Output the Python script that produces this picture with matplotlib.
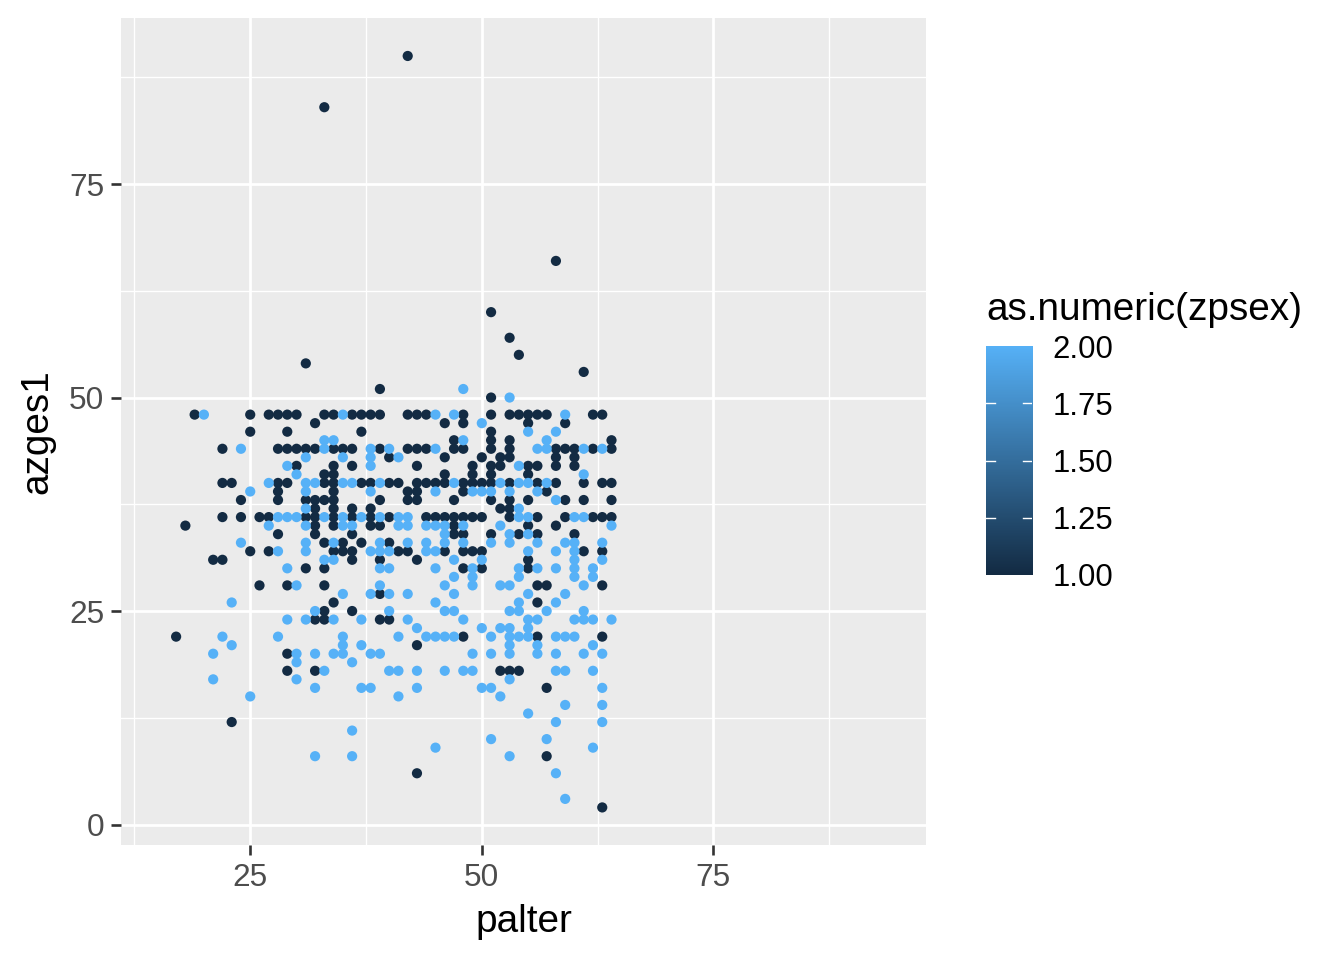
import matplotlib
matplotlib.use('Agg')
import matplotlib.pyplot as plt
from matplotlib.colors import LinearSegmentedColormap
import numpy as np

plt.rcParams['font.family'] = ['Liberation Sans', 'DejaVu Sans']

# ---------------- data ----------------
# zpsex == 1 (dark)
men_palter = [42, 33, 58, 51, 53, 54, 31, 61, 39, 51,
              19, 25, 27, 28, 29, 30, 33, 34, 36, 37, 38, 39, 42, 43, 44, 48, 51, 53, 54, 55, 56, 57, 62, 63,
              32, 46, 48, 55, 59,
              25, 29, 37, 51,
              47, 51, 53, 64,
              22, 28, 29, 30, 31, 32, 34, 35, 36, 39, 42, 43, 44, 47, 48, 51, 53, 58, 59, 60, 62, 64,
              40, 46, 50, 52, 53, 58, 60,
              30, 34, 36, 43, 49, 51, 52, 55, 56, 58, 60,
              33, 34, 46, 49, 51, 55,
              22, 23, 28, 29, 33, 34, 37, 38, 40, 41, 43, 44, 45, 46, 48, 49, 50, 51, 53, 56, 58, 61, 63, 64,
              28, 34, 42, 43, 48, 57,
              24, 28, 31, 32, 33, 34, 39, 42, 43, 47, 51, 53, 55, 59, 61, 64,
              32, 34, 36, 38, 52, 53,
              22, 24, 26, 27, 31, 32, 34, 36, 38, 40, 44, 45, 46, 47, 48, 49, 50, 53, 56, 59, 62, 63, 64,
              18, 32, 34, 38, 39, 47, 55, 58,
              28, 32, 36, 47, 48, 51, 54, 56, 60,
              33, 35, 37, 40,
              25, 27, 34, 35, 36, 41, 42, 46, 48, 49, 50, 61, 63,
              21, 22, 36, 39, 43, 55,
              31, 33, 48, 50, 55,
              26, 29, 33, 56, 57, 63,
              39,
              34, 56,
              33, 36,
              32, 33, 39, 40,
              17, 48, 56, 63,
              43,
              29,
              29, 32, 52, 53, 54,
              57, 23, 57, 43, 63]
men_azges = [90, 84, 66, 60, 57, 55, 54, 53, 51, 50,
             48, 48, 48, 48, 48, 48, 48, 48, 48, 48, 48, 48, 48, 48, 48, 48, 48, 48, 48, 48, 48, 48, 48, 48,
             47, 47, 47, 47, 47,
             46, 46, 46, 46,
             45, 45, 45, 45,
             44, 44, 44, 44, 44, 44, 44, 44, 44, 44, 44, 44, 44, 44, 44, 44, 44, 44, 44, 44, 44, 44,
             43, 43, 43, 43, 43, 43, 43,
             42, 42, 42, 42, 42, 42, 42, 42, 42, 42, 42,
             41, 41, 41, 41, 41, 41,
             40, 40, 40, 40, 40, 40, 40, 40, 40, 40, 40, 40, 40, 40, 40, 40, 40, 40, 40, 40, 40, 40, 40, 40,
             39, 39, 39, 39, 39, 39,
             38, 38, 38, 38, 38, 38, 38, 38, 38, 38, 38, 38, 38, 38, 38, 38,
             37, 37, 37, 37, 37, 37,
             36, 36, 36, 36, 36, 36, 36, 36, 36, 36, 36, 36, 36, 36, 36, 36, 36, 36, 36, 36, 36, 36, 36,
             35, 35, 35, 35, 35, 35, 35, 35,
             34, 34, 34, 34, 34, 34, 34, 34, 34,
             33, 33, 33, 33,
             32, 32, 32, 32, 32, 32, 32, 32, 32, 32, 32, 32, 32,
             31, 31, 31, 31, 31, 31,
             30, 30, 30, 30, 30,
             28, 28, 28, 28, 28, 28,
             27,
             26, 26,
             25, 25,
             24, 24, 24, 24,
             22, 22, 22, 22,
             21,
             20,
             18, 18, 18, 18, 18,
             16, 12, 8, 6, 2]

# zpsex == 2 (light)
women_palter = [48, 53,
                20, 35, 45, 47, 59,
                50,
                55, 58,
                33, 34, 48, 57,
                24, 33, 38, 40, 45, 56, 57, 61, 63,
                31, 35, 38, 41,
                29, 38, 54,
                30, 61,
                27, 31, 32, 35, 36, 39, 47, 52, 54, 55, 57,
                25, 31, 38, 45, 49, 50, 51, 53, 56,
                58,
                31, 54,
                28, 29, 30, 33, 35, 37, 39, 41, 42, 54, 55, 60, 61,
                27, 31, 35, 36, 41, 42, 44, 45, 46, 48, 52, 64,
                46, 53, 55,
                24, 31, 34, 39, 42, 44, 46, 48, 51, 53, 56, 59, 60, 63,
                28, 31, 38, 39, 40, 44, 45, 55, 58, 60,
                33, 34, 47, 50, 60, 63,
                29, 39, 40, 45, 49, 54, 56, 58, 60, 62,
                47, 49, 54, 60, 62,
                30, 39, 46, 49, 52, 53, 61,
                35, 38, 40, 42, 47, 55, 59,
                23, 45, 54, 58,
                32, 40, 46, 47, 53, 54, 57, 61,
                29, 31, 34, 37, 42, 48, 55, 56, 60, 61, 62, 64,
                43, 50, 52, 53, 55,
                22, 28, 35, 41, 44, 45, 46, 47, 51, 53, 54, 55, 58, 59, 60,
                23, 35, 37, 53, 56, 62,
                21, 30, 32, 34, 35, 38, 39, 49, 51, 53, 56, 58, 61, 63,
                30, 36,
                33, 40, 41, 43, 46, 48, 49, 58, 59, 62,
                21, 30, 53,
                32, 37, 38, 43, 50, 51, 63,
                25, 41, 52,
                59, 63,
                55,
                58, 63,
                36,
                51, 57,
                45, 62,
                32, 36, 53,
                58,
                59]
women_azges = [51, 50,
               48, 48, 48, 48, 48,
               47,
               46, 46,
               45, 45, 45, 45,
               44, 44, 44, 44, 44, 44, 44, 44, 44,
               43, 43, 43, 43,
               42, 42, 42,
               41, 41,
               40, 40, 40, 40, 40, 40, 40, 40, 40, 40, 40,
               39, 39, 39, 39, 39, 39, 39, 39, 39,
               38,
               37, 37,
               36, 36, 36, 36, 36, 36, 36, 36, 36, 36, 36, 36, 36,
               35, 35, 35, 35, 35, 35, 35, 35, 35, 35, 35, 35,
               34, 34, 34,
               33, 33, 33, 33, 33, 33, 33, 33, 33, 33, 33, 33, 33, 33,
               32, 32, 32, 32, 32, 32, 32, 32, 32, 32,
               31, 31, 31, 31, 31, 31,
               30, 30, 30, 30, 30, 30, 30, 30, 30, 30,
               29, 29, 29, 29, 29,
               28, 28, 28, 28, 28, 28, 28,
               27, 27, 27, 27, 27, 27, 27,
               26, 26, 26, 26,
               25, 25, 25, 25, 25, 25, 25, 25,
               24, 24, 24, 24, 24, 24, 24, 24, 24, 24, 24, 24,
               23, 23, 23, 23, 23,
               22, 22, 22, 22, 22, 22, 22, 22, 22, 22, 22, 22, 22, 22, 22,
               21, 21, 21, 21, 21, 21,
               20, 20, 20, 20, 20, 20, 20, 20, 20, 20, 20, 20, 20, 20,
               19, 19,
               18, 18, 18, 18, 18, 18, 18, 18, 18, 18,
               17, 17, 17,
               16, 16, 16, 16, 16, 16, 16,
               15, 15, 15,
               14, 14,
               13,
               12, 12,
               11,
               10, 10,
               9, 9,
               8, 8, 8,
               6,
               3]

palter = men_palter + women_palter
azges1 = men_azges + women_azges
zpsex = [1] * len(men_palter) + [2] * len(women_palter)

x_ticks = [25, 50, 75]
y_ticks = [0, 25, 50, 75]
legend_ticks = [1.00, 1.25, 1.50, 1.75, 2.00]

# ---------------- figure ----------------
W, H = 1344, 960
fig = plt.figure(figsize=(W / 100, H / 100), dpi=100)
fig.patch.set_facecolor('white')

pl, pr, pt, pb = 121, 926, 18.4, 845
ax = fig.add_axes([pl / W, 1 - pb / H, (pr - pl) / W, (pb - pt) / H])
ax.set_facecolor('#EBEBEB')

cmap = LinearSegmentedColormap.from_list('gg', ['#132B43', '#56B1F7'])

ax.scatter(palter, azges1, c=zpsex, cmap=cmap, vmin=1, vmax=2,
           s=54, linewidths=0, zorder=3)

ax.set_xlim(11.05, 97.95)
ax.set_ylim(-2.4, 94.4)

ax.set_xticks(x_ticks)
ax.set_yticks(y_ticks)
ax.set_xticks([12.5, 37.5, 62.5, 87.5], minor=True)
ax.set_yticks([12.5, 37.5, 62.5, 87.5], minor=True)
ax.grid(which='major', color='white', linewidth=1.95, zorder=0)
ax.grid(which='minor', color='white', linewidth=0.97, zorder=0)
ax.set_axisbelow(True)
for s in ax.spines.values():
    s.set_visible(False)

ax.tick_params(axis='both', which='major', length=7, width=1.9, color='#333333',
               labelsize=22.8, labelcolor='#4D4D4D')
ax.tick_params(axis='x', which='major', pad=6)
ax.tick_params(axis='y', which='major', pad=5)
ax.tick_params(which='minor', length=0)

ax.set_xlabel('palter', fontsize=27.9, color='black', labelpad=8)
ax.set_ylabel('azges1', fontsize=27.9, color='black', labelpad=10)

# ---------------- colour bar legend ----------------
cl, cr, ct, cb = 986, 1032, 346, 575
cax = fig.add_axes([cl / W, 1 - cb / H, (cr - cl) / W, (cb - ct) / H])
grad = np.linspace(1, 2, 300).reshape(-1, 1)
cax.imshow(grad, aspect='auto', cmap=cmap, vmin=1, vmax=2, origin='lower',
           extent=[0, 1, 1, 2])
cax.set_xlim(0, 1)
cax.set_ylim(1, 2)
for s in cax.spines.values():
    s.set_visible(False)
cax.set_xticks([])
cax.yaxis.tick_right()
cax.set_yticks(legend_ticks)
cax.set_yticklabels(['%.2f' % v for v in legend_ticks])
cax.tick_params(axis='y', length=0, pad=15, labelsize=22.4, labelcolor='black')
for v in legend_ticks[1:-1]:
    cax.plot([0, 0.2], [v, v], color='white', linewidth=1.0)
    cax.plot([0.8, 1.0], [v, v], color='white', linewidth=1.0)

fig.text(cl / W, 1 - 310 / H, 'as.numeric(zpsex)', fontsize=27.9,
         ha='left', va='center', color='black')

fig.savefig('out.png', dpi=100)
